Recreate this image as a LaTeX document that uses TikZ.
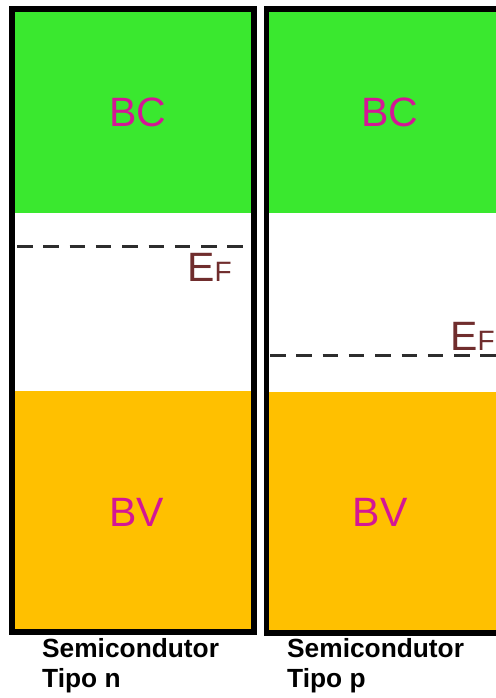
\documentclass[tikz,border=0pt]{standalone}
\usepackage{fontspec}
\setmainfont{Liberation Sans}
\definecolor{bandC}{RGB}{58,232,47}
\definecolor{bandV}{RGB}{255,192,0}
\definecolor{bandtxt}{RGB}{212,22,150}
\definecolor{fermitxt}{RGB}{112,45,45}
\definecolor{fermiline}{RGB}{45,45,45}
\begin{document}
\begin{tikzpicture}[x=1pt,y=-1pt,
  frame/.style={draw=black,line width=5.5pt},
  bandlbl/.style={text=bandtxt,inner sep=0pt,font=\fontsize{41}{41}\selectfont},
  fermi/.style={draw=fermiline,line width=3pt,dash pattern=on 15.5pt off 10.8pt},
  fermilbl/.style={text=fermitxt,inner sep=0pt,anchor=base west,font=\fontsize{41}{41}\selectfont},
  caption/.style={inner sep=0pt,anchor=base west,font=\bfseries\fontsize{26.3}{26.3}\selectfont}]
\useasboundingbox (0,0) rectangle (495,698);
\fill[white] (0,0) rectangle (495,698);

% n-type band diagram
\fill[bandC] (12,9) rectangle (254,213);
\fill[bandV] (12,391) rectangle (254,632);
\draw[frame] (12,9) rectangle (254,632);
\coordinate (fnA) at (17,246);
\coordinate (fnB) at (244,246);
\draw[fermi] (fnA) -- (fnB);
\node[bandlbl] (bcN) at (137.5,112) {BC};
\node[bandlbl] (bvN) at (136.5,512) {BV};
\node[fermilbl] (efN) at (187,281) {E\fontsize{28}{28}\selectfont F};
\node[caption] (capNa) at (42,657) {Semicondutor};
\node[caption] (capNb) at (42,687) {Tipo n};

% p-type band diagram
\fill[bandC] (266.5,9) rectangle (510,213);
\fill[bandV] (266.5,392) rectangle (510,633);
\draw[frame] (266.5,9) rectangle (510,633);
\coordinate (fpA) at (270,355);
\coordinate (fpB) at (500,355);
\draw[fermi] (fpA) -- (fpB);
\node[bandlbl] (bcP) at (389.5,112) {BC};
\node[bandlbl] (bvP) at (380,512) {BV};
\node[fermilbl] (efP) at (450,350) {E\fontsize{28}{28}\selectfont F};
\node[caption] (capPa) at (287,657) {Semicondutor};
\node[caption] (capPb) at (287,687) {Tipo p};
\end{tikzpicture}
\end{document}
